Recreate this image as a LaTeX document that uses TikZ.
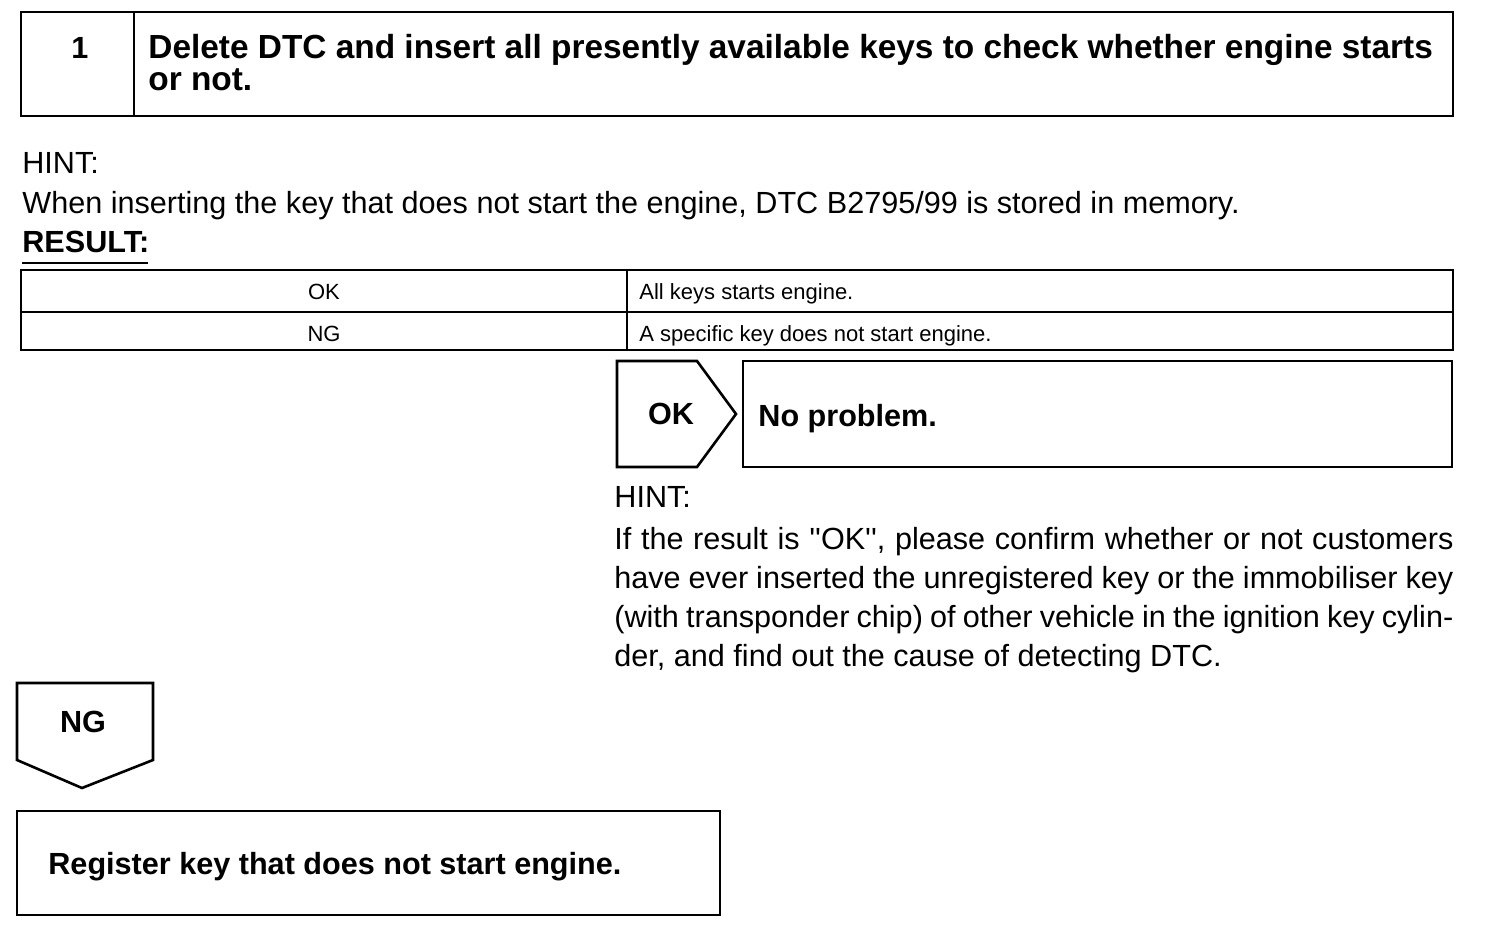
\documentclass[tikz,border=0pt]{standalone}
\usepackage{fontspec}
\setmainfont{Liberation Sans}
\newfontfamily\manualfont{Liberation Sans}
\usetikzlibrary{positioning, calc}
\tikzset{
  % Frames
  stepframe/.style={draw, line width=1.3pt},
  tablerule/.style={draw, line width=1pt},
  % Texts
  plaintext/.style={anchor=base west, inner sep=0pt,
    font=\manualfont\fontsize{15.3}{19.5}\selectfont},
  boldtext/.style={anchor=base west, inner sep=0pt,
    font=\manualfont\bfseries\fontsize{15.3}{16}\selectfont},
  celltext/.style={anchor=base, inner sep=0pt,
    font=\manualfont\fontsize{11}{12}\selectfont},
  tagtext/.style={inner sep=0pt,
    font=\manualfont\bfseries\fontsize{15.3}{16}\selectfont},
}
\newcommand{\hintline}[1]{\makebox[419.5pt][s]{#1}}

\begin{document}
\begin{tikzpicture}[x=0.5pt, y=-0.5pt]
  \useasboundingbox (0,0) rectangle (1504,938);

  %% ── Step header ──
  \draw[stepframe] (21,12) rectangle (1453,116);
  \draw[stepframe] (134,12) -- (134,116);
  \node[tagtext, anchor=base] (stepno) at (80,58) {1};
  \node[boldtext, font=\manualfont\bfseries\fontsize{16.7}{17}\selectfont] (title1) at (148,58) {Delete DTC and insert all presently available keys to check whether engine starts};
  \node[boldtext, font=\manualfont\bfseries\fontsize{16.7}{17}\selectfont] (title2) at (148,90) {or not.};

  %% ── Hint and result ──
  \node[plaintext] (hint) at (22,173) {HINT:};
  \node[plaintext] (memo) at (22,213) {When inserting the key that does not start the engine, DTC B2795/99 is stored in memory.};
  \node[boldtext] (result) at (22,252) {RESULT:};
  \draw[line width=0.8pt] (22,263) -- (148,263);

  %% ── Result table ──
  \draw[tablerule] (21,270) rectangle (1453,350);
  \draw[tablerule] (21,312) -- (1453,312);
  \draw[tablerule] (627,270) -- (627,350);
  \node[celltext] (okcell) at (324,299) {OK};
  \node[celltext] (ngcell) at (324,341) {NG};
  \node[celltext, anchor=base west] (okres) at (639,299) {All keys starts engine.};
  \node[celltext, anchor=base west] (ngres) at (639,341) {A specific key does not start engine.};

  %% ── OK branch ──
  \draw[stepframe] (617,361) -- (697,361) -- (736,414) -- (697,467) -- (617,467) -- cycle;
  \node[tagtext] (oktag) at (671,414) {OK};
  \draw[stepframe] (743,361) rectangle (1452,467);
  \node[boldtext] (okdo) at (758,426) {No problem.};

  \node[plaintext] (hint2) at (614,507) {HINT:};
  \node[plaintext] (hl1) at (614,549) {\hintline{If the result is ''OK'', please confirm whether or not customers}};
  \node[plaintext] (hl2) at (614,588) {\hintline{have ever inserted the unregistered key or the immobiliser key}};
  \node[plaintext] (hl3) at (614,627) {\hintline{(with transponder chip) of other vehicle in the ignition key cylin-}};
  \node[plaintext] (hl4) at (614,666) {der, and find out the cause of detecting DTC.};

  %% ── NG branch ──
  \draw[stepframe] (17,683) -- (153,683) -- (153,760) -- (82,788) -- (17,760) -- cycle;
  \node[tagtext] (ngtag) at (83,722) {NG};
  \draw[stepframe] (17,811) rectangle (720,915);
  \node[boldtext] (ngdo) at (48,874) {Register key that does not start engine.};

\end{tikzpicture}
\end{document}
